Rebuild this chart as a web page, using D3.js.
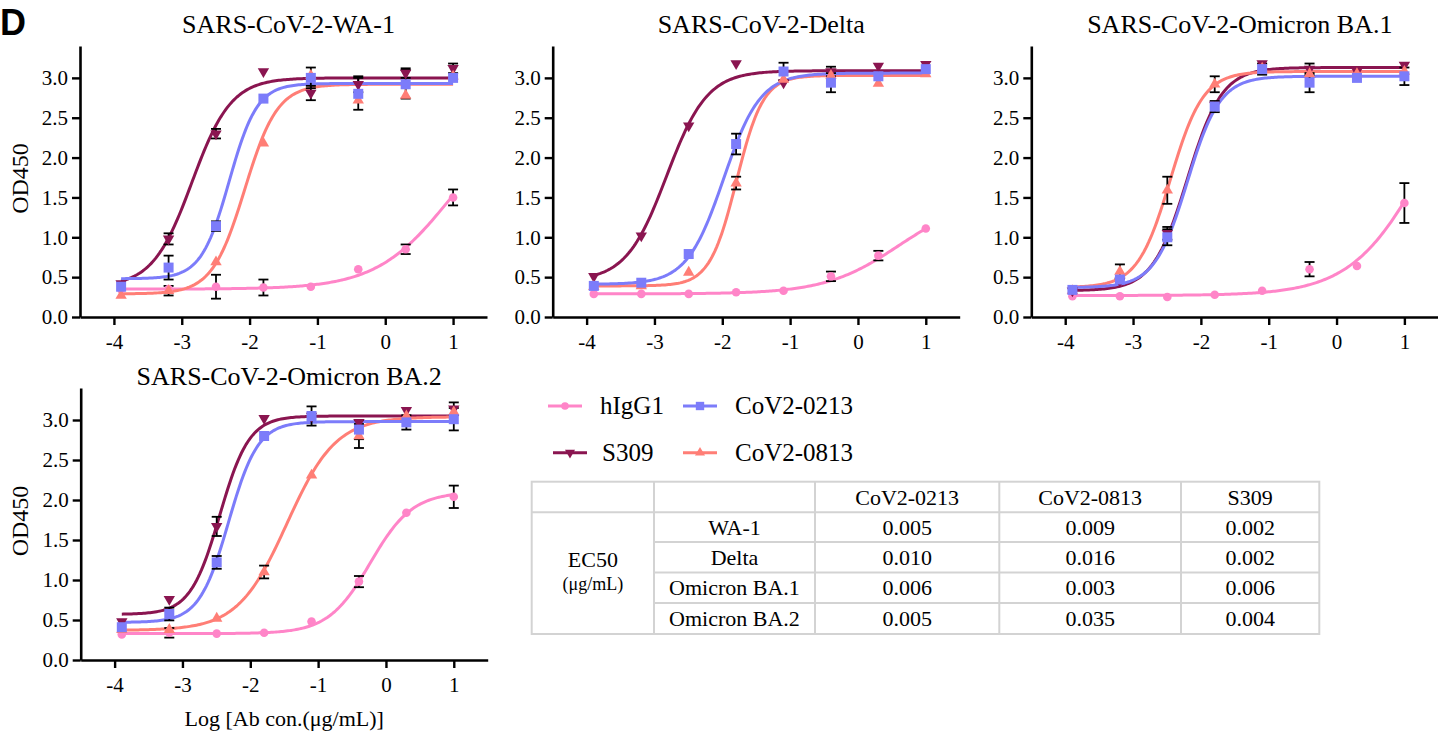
<!DOCTYPE html>
<html><head><meta charset="utf-8">
<script src="https://cdn.jsdelivr.net/npm/d3@7"></script>
<style>
body{margin:0;background:#fff}
svg{display:block}
svg text{font-family:"Liberation Serif","Times New Roman",serif !important;fill:#000}
svg text.letter{font-family:"Liberation Sans",Arial,sans-serif !important;font-weight:bold}
</style>
</head><body>
<svg id="c" width="1438" height="734"></svg>
<script>
// ---------------- DATA ----------------
const xLog = [-3.894, -3.194, -2.495, -1.796, -1.097, -0.398, 0.301, 1.0];
const xTicks = [-4, -3, -2, -1, 0, 1];
const yTicks = [0, 0.5, 1, 1.5, 2, 2.5, 3];
const seriesNames = ["hIgG1", "S309", "CoV2-0813", "CoV2-0213"];
const seriesColors = ["#FF85C8", "#8A1550", "#FF7E76", "#7C7CFA"];
const seriesSymbols = ["circle", "triangleDown", "triangleUp", "square"];
const panelTitles = ["SARS-CoV-2-WA-1", "SARS-CoV-2-Delta", "SARS-CoV-2-Omicron BA.1", "SARS-CoV-2-Omicron BA.2"];

// WA-1
const wa1_hIgG1 = [0.35, 0.35, 0.38, 0.37, 0.38, 0.60, 0.85, 1.50];
const wa1_S309  = [0.42, 0.98, 2.30, 3.08, 2.81, 2.92, 3.06, 3.12];
const wa1_0813  = [0.27, 0.33, 0.69, 2.18, 3.03, 2.72, 2.78, 3.02];
const wa1_0213  = [0.38, 0.62, 1.14, 2.74, 3.00, 2.80, 2.92, 3.00];
const wa1_hIgG1_sd = [0.02, 0.02, 0.15, 0.10, 0.02, 0.03, 0.06, 0.10];
const wa1_S309_sd  = [0.02, 0.07, 0.06, 0.02, 0.09, 0.10, 0.06, 0.06];
const wa1_0813_sd  = [0.02, 0.06, 0.03, 0.03, 0.05, 0.05, 0.05, 0.03];
const wa1_0213_sd  = [0.03, 0.15, 0.06, 0.02, 0.13, 0.20, 0.18, 0.03];
const wa1_fit = [[0.35, 2.6, 0.95, 0.8], [0.38, 3.0, -2.85, 1.5], [0.29, 2.92, -2.07, 1.8], [0.48, 2.93, -2.3, 2.1]];

// Delta
const delta_hIgG1 = [0.29, 0.29, 0.29, 0.31, 0.33, 0.51, 0.77, 1.11];
const delta_S309  = [0.51, 1.02, 2.40, 3.18, 2.94, 3.08, 3.15, 3.17];
const delta_0813  = [0.38, 0.39, 0.56, 1.68, 2.98, 3.03, 2.93, 3.05];
const delta_0213  = [0.39, 0.43, 0.79, 2.17, 3.08, 2.94, 3.02, 3.11];
const delta_hIgG1_sd = [0.01, 0.01, 0.01, 0.01, 0.02, 0.06, 0.06, 0.02];
const delta_S309_sd  = [0.02, 0.02, 0.02, 0.02, 0.03, 0.06, 0.04, 0.03];
const delta_0813_sd  = [0.01, 0.02, 0.02, 0.08, 0.03, 0.03, 0.03, 0.02];
const delta_0213_sd  = [0.02, 0.02, 0.03, 0.13, 0.11, 0.12, 0.04, 0.03];
const delta_fit = [[0.29, 1.5, 0.6, 0.8], [0.45, 3.09, -2.82, 1.45], [0.39, 3.03, -1.79, 2.2], [0.41, 3.06, -1.98, 1.6]];

// Omicron BA.1
const ba1_hIgG1 = [0.26, 0.26, 0.25, 0.28, 0.33, 0.60, 0.64, 1.43];
const ba1_S309  = [0.33, 0.45, 1.05, 2.66, 3.18, 3.11, 3.08, 3.16];
const ba1_0813  = [0.33, 0.57, 1.59, 2.92, 3.12, 3.05, 3.05, 3.08];
const ba1_0213  = [0.34, 0.47, 1.00, 2.64, 3.11, 2.94, 3.00, 3.02];
const ba1_hIgG1_sd = [0.01, 0.01, 0.01, 0.01, 0.02, 0.09, 0.02, 0.25];
const ba1_S309_sd  = [0.02, 0.03, 0.08, 0.05, 0.04, 0.07, 0.03, 0.03];
const ba1_0813_sd  = [0.02, 0.09, 0.17, 0.10, 0.04, 0.05, 0.03, 0.03];
const ba1_0213_sd  = [0.02, 0.03, 0.10, 0.07, 0.07, 0.12, 0.02, 0.11];
const ba1_fit = [[0.27, 3.5, 1.3, 0.8], [0.33, 3.13, -2.2, 1.7], [0.37, 3.08, -2.45, 1.8], [0.37, 3.02, -2.2, 1.8]];

// Omicron BA.2
const ba2_hIgG1 = [0.32, 0.34, 0.33, 0.34, 0.48, 0.98, 1.84, 2.04];
const ba2_S309  = [0.48, 0.76, 1.67, 3.02, 3.05, 2.97, 3.12, 3.14];
const ba2_0813  = [0.38, 0.38, 0.52, 1.10, 2.31, 2.80, 3.05, 3.10];
const ba2_0213  = [0.41, 0.575, 1.22, 2.80, 3.05, 2.88, 2.97, 3.01];
const ba2_hIgG1_sd = [0.01, 0.06, 0.01, 0.01, 0.02, 0.07, 0.02, 0.14];
const ba2_S309_sd  = [0.02, 0.02, 0.12, 0.02, 0.05, 0.05, 0.05, 0.08];
const ba2_0813_sd  = [0.01, 0.02, 0.02, 0.08, 0.03, 0.15, 0.04, 0.05];
const ba2_0213_sd  = [0.02, 0.08, 0.08, 0.02, 0.12, 0.12, 0.09, 0.14];
const ba2_fit = [[0.33, 2.1, -0.23, 1.4], [0.57, 3.05, -2.45, 2.0], [0.37, 3.04, -1.46, 1.2], [0.47, 2.98, -2.32, 2.0]];

// EC50 table
const tableCols = ["CoV2-0213", "CoV2-0813", "S309"];
const tableRows = ["WA-1", "Delta", "Omicron BA.1", "Omicron BA.2"];
const ec50_0213 = ["0.005", "0.010", "0.006", "0.005"];
const ec50_0813 = ["0.009", "0.016", "0.003", "0.035"];
const ec50_S309 = ["0.002", "0.002", "0.006", "0.004"];

// legend order
const legendOrder = [["hIgG1", "CoV2-0213"], ["S309", "CoV2-0813"]];

// ---------------- DRAW ----------------
const SERIF = '"Liberation Serif", "Times New Roman", serif';
const svg = d3.select("#c");
const fit4 = (p, x) => p[0] + (p[1] - p[0]) / (1 + Math.pow(10, (p[2] - x) * p[3]));

function symPath(kind, big) {
  const s = big ? {circle: 58, square: 100, triangle: 56} : {circle: 46, square: 70, triangle: 44};
  if (kind === "circle") return d3.symbol(d3.symbolCircle, s.circle)();
  if (kind === "square") return d3.symbol(d3.symbolSquare, s.square)();
  return d3.symbol(d3.symbolTriangle, s.triangle)();
}
function symRot(kind) { return kind === "triangleDown" ? " rotate(180)" : ""; }

const panels = [
  {title: panelTitles[0], x0: 80, y0: 317, y1: 46, means: [wa1_hIgG1, wa1_S309, wa1_0813, wa1_0213],
   sds: [wa1_hIgG1_sd, wa1_S309_sd, wa1_0813_sd, wa1_0213_sd], fits: wa1_fit, ylab: true, xlab: false, titleY: 33},
  {title: panelTitles[1], x0: 552.7, y0: 317, y1: 46, means: [delta_hIgG1, delta_S309, delta_0813, delta_0213],
   sds: [delta_hIgG1_sd, delta_S309_sd, delta_0813_sd, delta_0213_sd], fits: delta_fit, ylab: false, xlab: false, titleY: 33},
  {title: panelTitles[2], x0: 1031.3, y0: 317, y1: 46, means: [ba1_hIgG1, ba1_S309, ba1_0813, ba1_0213],
   sds: [ba1_hIgG1_sd, ba1_S309_sd, ba1_0813_sd, ba1_0213_sd], fits: ba1_fit, ylab: false, xlab: false, titleY: 33},
  {title: panelTitles[3], x0: 80.7, y0: 660, y1: 388, means: [ba2_hIgG1, ba2_S309, ba2_0813, ba2_0213],
   sds: [ba2_hIgG1_sd, ba2_S309_sd, ba2_0813_sd, ba2_0213_sd], fits: ba2_fit, ylab: true, xlab: true, titleY: 385}
];

const plotW = 407;
panels.forEach(p => {
  const x = d3.scaleLinear().domain([-4.5, 1.5]).range([p.x0, p.x0 + plotW]);
  const y = d3.scaleLinear().domain([0, 3.4]).range([p.y0, p.y1]);
  const g = svg.append("g");

  // axes
  const ax = g.append("g").attr("transform", `translate(0,${p.y0})`)
    .call(d3.axisBottom(x).tickValues(xTicks).tickSize(8).tickPadding(9).tickSizeOuter(0)
      .tickFormat(d => d < 0 ? "-" + Math.abs(d) : String(d)));
  const ay = g.append("g").attr("transform", `translate(${p.x0},0)`)
    .call(d3.axisLeft(y).tickValues(yTicks).tickSize(8).tickPadding(4).tickSizeOuter(0)
      .tickFormat(d3.format(".1f")));
  [ax, ay].forEach(a => {
    a.attr("font-family", null).attr("font-size", null);
    a.select(".domain").attr("stroke", "#000").attr("stroke-width", 2.6);
    a.selectAll(".tick line").attr("stroke", "#000").attr("stroke-width", 2.4);
    a.selectAll(".tick text").style("font-family", SERIF)
      .style("font-size", "21px").attr("fill", "#000");
  });

  // title
  g.append("text").attr("x", p.x0 + plotW / 2 + 5).attr("y", p.titleY)
    .attr("text-anchor", "middle").style("font-size", "26px").text(p.title);

  if (p.ylab) {
    g.append("text").attr("transform", `translate(28,${(p.y0 + p.y1) / 2 - 3}) rotate(-90)`)
      .attr("text-anchor", "middle").style("font-size", "24px").text("OD450");
  }
  if (p.xlab) {
    g.append("text").attr("x", p.x0 + plotW / 2).attr("y", 726)
      .attr("text-anchor", "middle").style("font-size", "22px").text("Log [Ab con.(μg/mL)]");
  }

  // fitted curves
  const xs = d3.range(0, 201).map(i => xLog[0] + (xLog[xLog.length - 1] - xLog[0]) * i / 200);
  const line = d3.line().x(d => x(d[0])).y(d => y(d[1]));
  seriesNames.forEach((s, si) => {
    g.append("path").attr("d", line(xs.map(v => [v, fit4(p.fits[si], v)])))
      .attr("fill", "none").attr("stroke", seriesColors[si]).attr("stroke-width", 3);
  });

  // error bars
  seriesNames.forEach((s, si) => {
    p.means[si].forEach((m, i) => {
      const sd = p.sds[si][i];
      const hy = Math.abs(y(0) - y(sd));
      if (hy < 4.5) return;
      const cx = x(xLog[i]);
      const eg = g.append("g").attr("stroke", "#000").attr("stroke-width", 1.8);
      eg.append("line").attr("x1", cx).attr("x2", cx).attr("y1", y(m - sd)).attr("y2", y(m + sd));
      eg.append("line").attr("x1", cx - 5).attr("x2", cx + 5).attr("y1", y(m - sd)).attr("y2", y(m - sd));
      eg.append("line").attr("x1", cx - 5).attr("x2", cx + 5).attr("y1", y(m + sd)).attr("y2", y(m + sd));
    });
  });

  // markers
  seriesNames.forEach((s, si) => {
    p.means[si].forEach((m, i) => {
      g.append("path").attr("d", symPath(seriesSymbols[si], true))
        .attr("transform", `translate(${x(xLog[i])},${y(m)})${symRot(seriesSymbols[si])}`)
        .attr("fill", seriesColors[si]);
    });
  });
});

// panel letter
svg.append("text").attr("class", "letter").attr("x", 0).attr("y", 35).attr("text-anchor", "start")
  .style("font-size", "36px").text("D");

// legend
const legendPos = [[{lx: 548, tx: 600, y: 406}, {lx: 683, tx: 735, y: 406}],
                   [{lx: 553, tx: 602, y: 452.7}, {lx: 683, tx: 735, y: 452.7}]];
legendOrder.forEach((row, ri) => row.forEach((name, ci) => {
  const si = seriesNames.indexOf(name);
  const pos = legendPos[ri][ci];
  const lg = svg.append("g");
  lg.append("line").attr("x1", pos.lx).attr("x2", pos.lx + 34).attr("y1", pos.y).attr("y2", pos.y)
    .attr("stroke", seriesColors[si]).attr("stroke-width", 3);
  lg.append("path").attr("d", symPath(seriesSymbols[si], false))
    .attr("transform", `translate(${pos.lx + 17},${pos.y})${symRot(seriesSymbols[si])}`)
    .attr("fill", seriesColors[si]);
  lg.append("text").attr("x", pos.tx).attr("y", pos.y + 8).style("font-size", "25px").text(name);
}));

// table
const tX = [531.7, 654, 815, 999.3, 1181, 1319.3];
const tY = [481.7, 512.3, 542, 572.5, 603, 634];
const tg = svg.append("g");
const gridCol = "#d3d3d3";
tg.append("rect").attr("x", tX[0]).attr("y", tY[0]).attr("width", tX[5] - tX[0]).attr("height", tY[5] - tY[0])
  .attr("fill", "none").attr("stroke", gridCol).attr("stroke-width", 2);
tX.slice(1, 5).forEach(v => tg.append("line").attr("x1", v).attr("x2", v).attr("y1", tY[0]).attr("y2", tY[5])
  .attr("stroke", gridCol).attr("stroke-width", 2));
tg.append("line").attr("x1", tX[0]).attr("x2", tX[5]).attr("y1", tY[1]).attr("y2", tY[1])
  .attr("stroke", gridCol).attr("stroke-width", 2);
tY.slice(2, 5).forEach(v => tg.append("line").attr("x1", tX[1]).attr("x2", tX[5]).attr("y1", v).attr("y2", v)
  .attr("stroke", gridCol).attr("stroke-width", 2));
const colC = i => (tX[i] + tX[i + 1]) / 2;
const rowC = i => (tY[i] + tY[i + 1]) / 2;
tableCols.forEach((c, i) => tg.append("text").attr("x", colC(i + 2)).attr("y", rowC(0)).attr("dy", "0.35em")
  .attr("text-anchor", "middle").style("font-size", "22px").text(c));
const ecCols = [ec50_0213, ec50_0813, ec50_S309];
tableRows.forEach((r, ri) => {
  tg.append("text").attr("x", colC(1)).attr("y", rowC(ri + 1)).attr("dy", "0.35em")
    .attr("text-anchor", "middle").style("font-size", "22px").text(r);
  ecCols.forEach((col, ci) => tg.append("text").attr("x", colC(ci + 2)).attr("y", rowC(ri + 1)).attr("dy", "0.35em")
    .attr("text-anchor", "middle").style("font-size", "22px").text(col[ri]));
});
tg.append("text").attr("x", colC(0)).attr("y", 559).attr("dy", "0.35em").attr("text-anchor", "middle")
  .style("font-size", "22px").text("EC50");
tg.append("text").attr("x", colC(0)).attr("y", 584).attr("dy", "0.35em").attr("text-anchor", "middle")
  .style("font-size", "18px").text("(μg/mL)");
</script>
</body></html>
